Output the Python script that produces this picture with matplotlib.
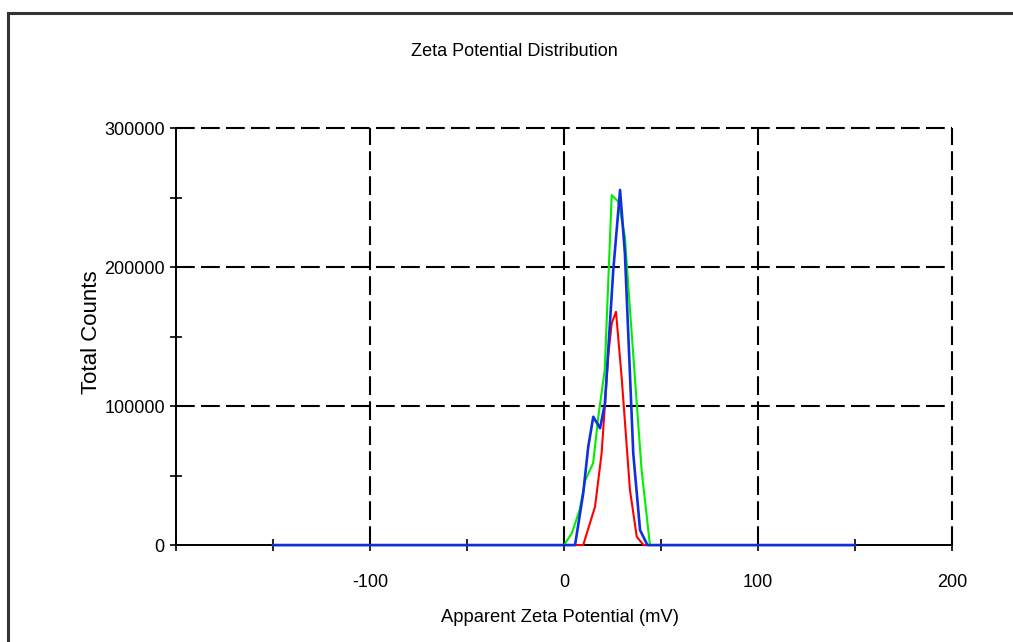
#!/usr/bin/env python3
"""Zeta potential distribution: three runs overlaid on one axis."""

import matplotlib

matplotlib.use("Agg")
import matplotlib.pyplot as plt
from matplotlib.lines import Line2D
from matplotlib.ticker import FixedLocator

# (mV, total counts)
green_mv = [-150, 0, 4, 8, 11, 15, 17.7, 21, 24.6, 28, 31.4, 34.5, 37.5, 40, 44.3, 150]
green_counts = [0, 0, 8400, 25000, 46800, 58800, 92300, 126000, 251800, 247000,
                221800, 160000, 102000, 54000, 0, 0]

red_mv = [-150, 0, 9.9, 16, 19.4, 22.9, 24.6, 26.8, 29.7, 34, 37.5, 41, 150]
red_counts = [0, 0, 0, 27600, 66000, 137900, 159500, 167800, 121100, 39600, 6000, 0, 0]

blue_mv = [-150, 0, 5.7, 9.9, 12.5, 15.1, 18.6, 21.1, 25.4, 28.9, 31.4, 35.7, 39.2, 43, 150]
blue_counts = [0, 0, 0, 37200, 70700, 92300, 84000, 102000, 197800, 255400, 209900,
               66000, 10800, 0, 0]

x_major = [-100, 0, 100, 200]
x_minor = [-200, -150, -50, 50, 150]
y_major = [0, 100000, 200000, 300000]
y_minor = [50000, 150000, 250000]

TXT = ["Liberation Sans", "DejaVu Sans"]

fig = plt.figure(figsize=(10.13, 6.42), dpi=100)
ax = fig.add_axes([0.1737, 0.151, 0.9398 - 0.1737, 0.8006 - 0.151])

# outer frame (top and left only)
fig.add_artist(Line2D([8 / 1013, 1.0], [1 - 13 / 642] * 2, transform=fig.transFigure,
                      color="#333333", lw=2.2))
fig.add_artist(Line2D([8 / 1013] * 2, [0.0, 1 - 13 / 642], transform=fig.transFigure,
                      color="#333333", lw=2.2))

ax.set_xlim(-200, 200)
ax.set_ylim(0, 300000)

dash = (0, (9, 3))
for xv in x_major:
    ax.axvline(xv, color="black", lw=1.5, ls=dash, zorder=1, clip_on=False)
for yv in y_major[1:]:
    ax.axhline(yv, color="black", lw=1.5, ls=dash, zorder=1, clip_on=False)

ax.plot(green_mv, green_counts, color="#00ee00", lw=1.5, zorder=4, clip_on=False)
ax.plot(red_mv, red_counts, color="#ff0000", lw=1.5, zorder=5, clip_on=False)
ax.plot(blue_mv, blue_counts, color="#1030e0", lw=1.9, zorder=6, clip_on=False)

for s in ("top", "right"):
    ax.spines[s].set_visible(False)
for s in ("left", "bottom"):
    ax.spines[s].set_linewidth(1.4)
    ax.spines[s].set_zorder(3)

ax.xaxis.set_major_locator(FixedLocator(x_major))
ax.xaxis.set_minor_locator(FixedLocator(x_minor))
ax.yaxis.set_major_locator(FixedLocator(y_major))
ax.yaxis.set_minor_locator(FixedLocator(y_minor))
ax.set_xticklabels([str(v) for v in x_major], family=TXT, fontsize=13)
ax.set_yticklabels([str(v) for v in y_major], family=TXT, fontsize=13)
ax.tick_params(axis="x", which="both", direction="inout", length=8, width=1.2, pad=17)
ax.tick_params(axis="y", which="both", direction="inout", length=8, width=1.2, pad=4)

fig.text(0.5075, 1 - 51 / 642, "Zeta Potential Distribution", ha="center", va="center",
         family=TXT, fontsize=13)
fig.text(0.5525, 1 - 617 / 642, "Apparent Zeta Potential (mV)", ha="center", va="center",
         family=TXT, fontsize=13.2)
fig.text(91 / 1013, 1 - 332 / 642, "Total Counts", ha="center", va="center", rotation=90,
         family=TXT, fontsize=16)

fig.savefig("out.png", dpi=100, facecolor="white")
plt.close(fig)
